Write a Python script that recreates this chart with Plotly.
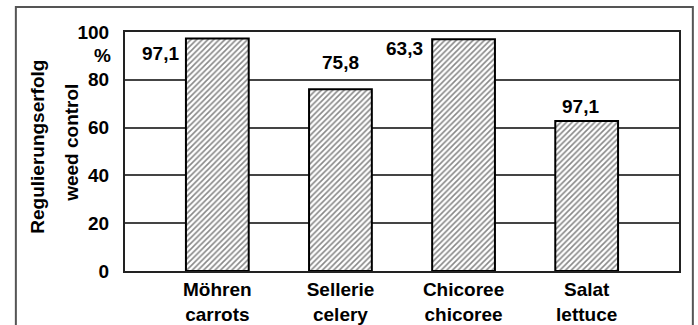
import plotly.graph_objects as go

categories = ["Möhren<br>carrots", "Sellerie<br>celery", "Chicoree<br>chicoree", "Salat<br>lettuce"]
bar_values = [97.3, 76.0, 97.0, 62.8]
value_labels = ["97,1", "75,8", "63,3", "97,1"]
label_y = [90.8, 87.4, 92.9, 69.0]
label_xshift = [-57, 0, -59, -6]
y_ticks = [0, 20, 40, 60, 80, 100]

FONT = "Liberation Sans, Arial, sans-serif"
BF = dict(family=FONT, size=19, color="black", weight="bold")

fig = go.Figure()
fig.add_trace(go.Bar(
    x=categories, y=bar_values, width=0.51,
    marker=dict(color="white", line=dict(color="black", width=2),
                pattern=dict(shape="/", fgcolor="#111", bgcolor="white", size=4, solidity=0.4)),
    showlegend=False, hoverinfo="skip",
))

for c, t, yv, xs in zip(categories, value_labels, label_y, label_xshift):
    fig.add_annotation(x=c, y=yv, text=t, showarrow=False, xshift=xs, font=BF)

fig.add_annotation(xref="paper", yref="y", x=0, y=90, text="%", showarrow=False,
                   xanchor="right", xshift=-12, font=BF)
fig.add_annotation(xref="paper", yref="paper", x=-0.157, y=0.52, text="Regulierungserfolg",
                   textangle=-90, showarrow=False, xanchor="center", yanchor="middle", font=BF)
fig.add_annotation(xref="paper", yref="paper", x=-0.098, y=0.535, text="weed control",
                   textangle=-90, showarrow=False, xanchor="center", yanchor="middle", font=BF)

fig.add_shape(type="rect", xref="paper", yref="paper", x0=-0.197, x1=1.025, y0=-0.3, y1=1.105,
              line=dict(color="#555", width=2), layer="below")

fig.update_layout(
    width=698, height=325,
    margin=dict(l=125, r=19, t=32, b=54, autoexpand=False),
    paper_bgcolor="white", plot_bgcolor="white",
    font=dict(family=FONT, size=19, color="black"),
    xaxis=dict(range=[-0.75, 3.75], showgrid=False, showline=True, mirror=True,
               linecolor="#222", linewidth=2, ticks="", tickfont=BF,
               automargin=False, fixedrange=True),
    yaxis=dict(range=[0, 100], tickvals=y_ticks, showgrid=True, gridcolor="#444", gridwidth=1.5,
               showline=True, mirror=True, linecolor="#222", linewidth=2, ticks="",
               ticklabelstandoff=10, tickfont=BF, zeroline=False,
               automargin=False, fixedrange=True),
)

fig.write_html("out.html")
